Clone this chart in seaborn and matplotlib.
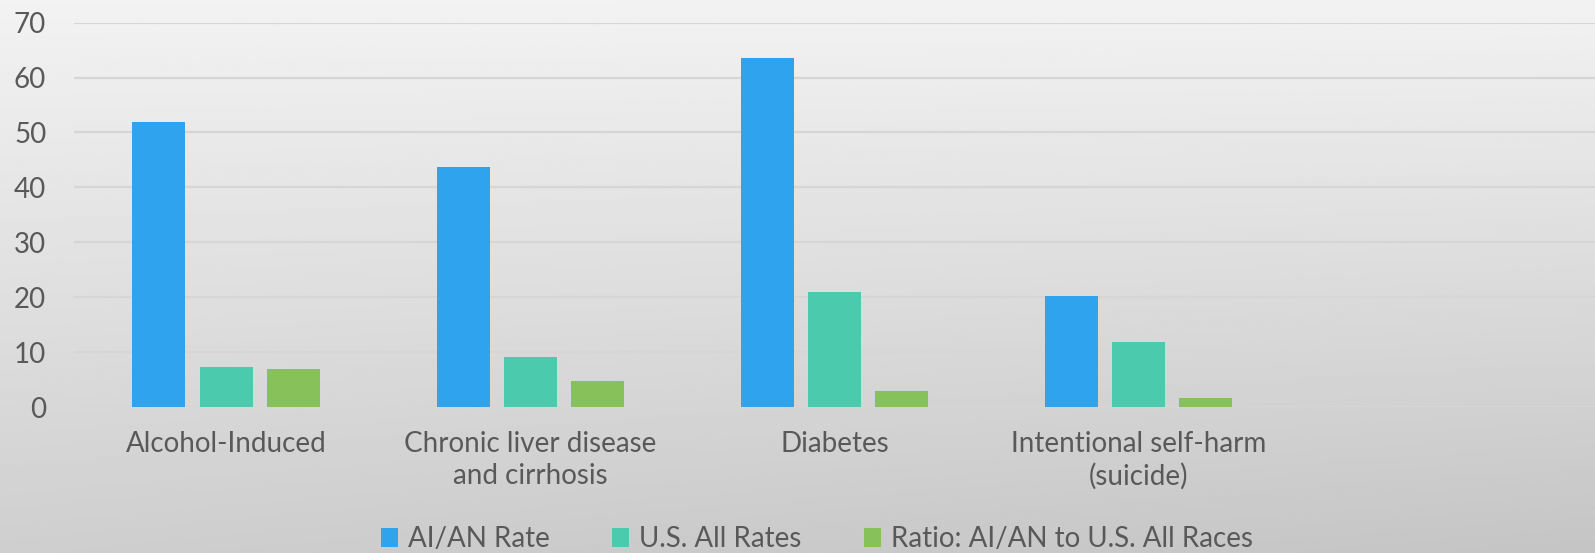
import numpy as np
import pandas as pd
import matplotlib
matplotlib.use("Agg")
import matplotlib.pyplot as plt
import seaborn as sns

categories = ["Alcohol-Induced", "Chronic liver disease\nand cirrhosis", "Diabetes",
              "Intentional self-harm\n(suicide)"]
series = ["AI/AN Rate", "U.S. All Rates", "Ratio: AI/AN to U.S. All Races"]
aian_rate = [51.9, 43.7, 63.6, 20.2]
us_rate = [7.3, 9.1, 21.0, 11.8]
ratio = [7.0, 4.7, 2.9, 1.6]
colors = ["#2FA3EE", "#4BCAAD", "#87C159"]

df = pd.DataFrame({
    "cause": categories * 3,
    "series": [s for s in series for _ in categories],
    "value": aian_rate + us_rate + ratio,
})

sns.set_style("white")
plt.rcParams["font.family"] = ["Lato", "DejaVu Sans"]
txt = "#595959"

fig = plt.figure(figsize=(15.95, 5.53), dpi=100)

# gray gradient backdrop like the slide
bg = fig.add_axes([0, 0, 1, 1], zorder=-2)
yy, xx = np.mgrid[0:1:200j, 0:1:400j]
shade = 0.95 - 0.14 * yy - 0.04 * yy * xx
bg.imshow(shade, cmap="gray", vmin=0, vmax=1, aspect="auto", extent=(0, 1, 0, 1))
bg.axis("off")

ax = fig.add_axes([0.0464, 0.264, 0.9536, 0.695])
ax.set_facecolor("none")
sns.barplot(data=df, x="cause", y="value", hue="series", order=categories,
            hue_order=series, palette=colors, width=0.663, gap=0.21,
            saturation=1, linewidth=0, ax=ax)

ax.set_xlim(-0.5, 4.5)
ax.set_ylim(0, 70)
ax.set_yticks(range(0, 71, 10))
ax.yaxis.grid(True, color="#d6d6d6", linewidth=1.6)
ax.set_axisbelow(True)
sns.despine(ax=ax, left=True, bottom=True)
ax.set_xlabel("")
ax.set_ylabel("")
ax.tick_params(axis="y", length=0, pad=20, labelsize=20, labelcolor=txt)
ax.tick_params(axis="x", length=0, pad=17, labelsize=20, labelcolor=txt)
for lab in ax.get_xticklabels():
    lab.set_linespacing(1.3)

handles, labels = ax.get_legend_handles_labels()
ax.legend_.remove()
fig.legend(handles, labels, loc="center", bbox_to_anchor=(0.512, 0.025), ncol=3,
           frameon=False, fontsize=20, labelcolor=txt, handlelength=0.62,
           handleheight=0.68, handletextpad=0.35, columnspacing=2.25)

fig.savefig("out.png", dpi=100)
